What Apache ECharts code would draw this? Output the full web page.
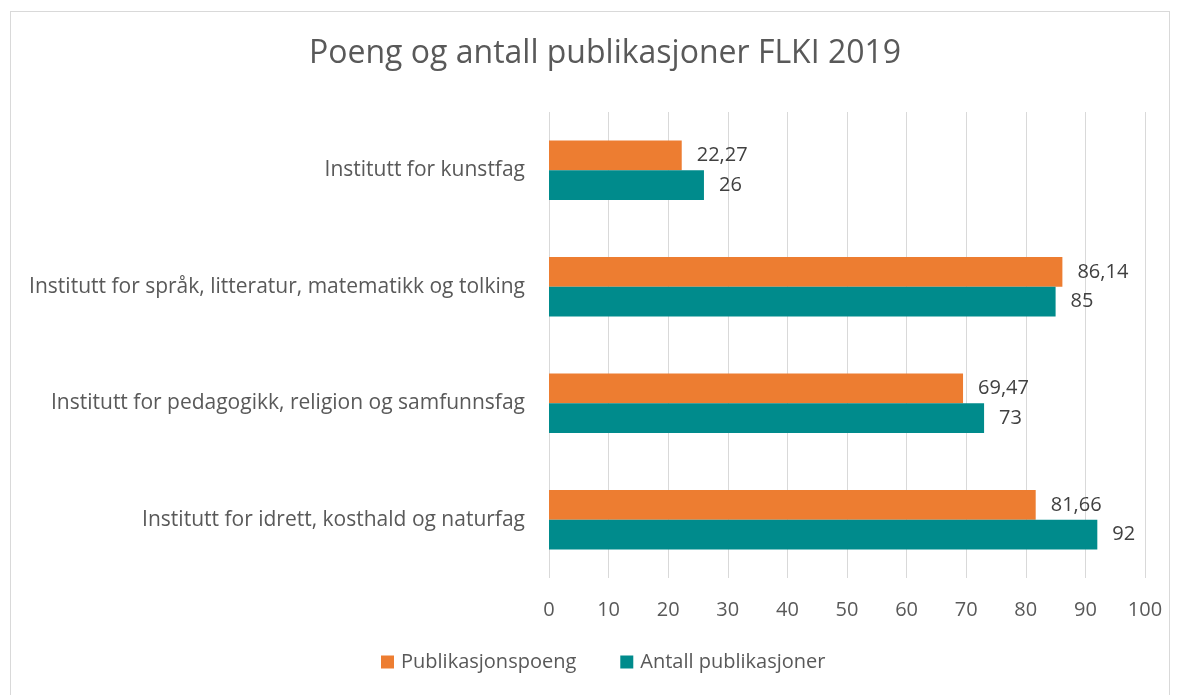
<!DOCTYPE html>
<html>
<head>
<meta charset="utf-8">
<script src="https://cdn.jsdelivr.net/npm/echarts@6/dist/echarts.min.js"></script>
<style>
  html, body { margin: 0; padding: 0; background: #fff; }
  #chart { width: 1180px; height: 695px; }
  #frame { position: absolute; left: 10px; top: 11px; width: 1158px; height: 700px; border: 1px solid #d9d9d9; pointer-events: none; }
</style>
</head>
<body>
<div id="chart"></div>
<div id="frame"></div>
<script>
// 类目从上到下
const categories = [
    'Institutt for kunstfag',
    'Institutt for språk, litteratur, matematikk og tolking',
    'Institutt for pedagogikk, religion og samfunnsfag',
    'Institutt for idrett, kosthald og naturfag'
]
const poeng = [22.27, 86.14, 69.47, 81.66]
const antall = [26, 85, 73, 92]
const xTicks = [0, 10, 20, 30, 40, 50, 60, 70, 80, 90, 100]

const font = 'Open Sans'
const chart = echarts.init(document.getElementById('chart'))

const labelStyle = {
    show: true,
    position: 'right',
    distance: 15,
    color: '#404040',
    fontSize: 20,
    fontFamily: font,
    formatter: p => String(p.value).replace('.', ',')
}

chart.setOption({
    animation: false,
    title: {
        text: 'Poeng og antall publikasjoner FLKI 2019',
        left: 304,
        top: 33,
        textStyle: { color: '#595959', fontSize: 32, fontWeight: 'normal', fontFamily: font }
    },
    legend: {
        bottom: 18,
        left: 376,
        itemWidth: 13,
        itemHeight: 13,
        itemGap: 44,
        icon: 'rect',
        textStyle: { color: '#595959', fontSize: 20, fontFamily: font, padding: [0, 0, 0, 2] }
    },
    grid: { left: 549, right: 35, top: 112, bottom: 117 },
    xAxis: {
        type: 'value',
        min: xTicks[0],
        max: xTicks[xTicks.length - 1],
        interval: 10,
        axisLine: { show: false },
        axisTick: { show: false },
        splitLine: { lineStyle: { color: '#d9d9d9', width: 1 } },
        axisLabel: { color: '#595959', fontSize: 20, fontFamily: font, margin: 22 }
    },
    yAxis: {
        type: 'category',
        inverse: true,
        data: categories,
        axisLine: { show: false },
        axisTick: { show: false },
        axisLabel: { color: '#595959', fontSize: 21, fontFamily: font, margin: 24 }
    },
    series: [
        {
            name: 'Publikasjonspoeng',
            type: 'bar',
            data: poeng,
            barGap: '0%',
            barCategoryGap: '49%',
            itemStyle: { color: '#ed7d31' },
            label: labelStyle
        },
        {
            name: 'Antall publikasjoner',
            type: 'bar',
            data: antall,
            barGap: '0%',
            barCategoryGap: '49%',
            itemStyle: { color: '#008b8c' },
            label: labelStyle
        }
    ]
})
</script>
</body>
</html>
